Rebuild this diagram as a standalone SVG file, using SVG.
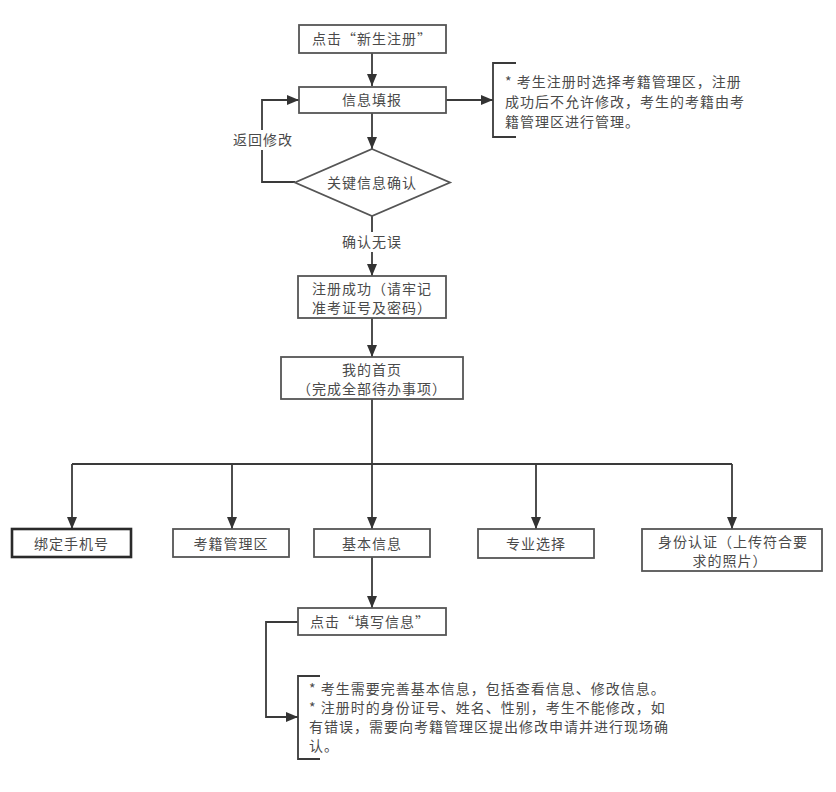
<svg xmlns="http://www.w3.org/2000/svg" width="836" height="792" viewBox="0 0 836 792">
<defs>
<style>
.box{fill:#fff;stroke:#555;stroke-width:1.8}
.box.dark{stroke:#2a2a2a;stroke-width:2.6}
.ln{fill:none;stroke:#3a3a3a;stroke-width:1.8}
.t{font-family:"Noto Sans CJK SC","Noto Sans",sans-serif;font-size:14px;letter-spacing:1px;fill:#4a4a4a}
.c{text-anchor:middle}
</style>
<marker id="arr" viewBox="0 0 12 10" refX="12" refY="5" markerWidth="12" markerHeight="10" orient="auto" markerUnits="userSpaceOnUse">
<path d="M0,0 L12,5 L0,10 z" fill="#333"/>
</marker>
</defs>
<rect width="836" height="792" fill="#fff"/>
<g id="connectors">
<path class="ln" d="M372,53 V86" marker-end="url(#arr)"/>
<path class="ln" d="M372,113 V149" marker-end="url(#arr)"/>
<path class="ln" d="M446,100 H493" marker-end="url(#arr)"/>
<path class="ln" d="M295,182 H262 V100 H299" marker-end="url(#arr)"/>
<path class="ln" d="M372,216 V276" marker-end="url(#arr)"/>
<path class="ln" d="M372,318 V357" marker-end="url(#arr)"/>
<path class="ln" d="M372,399 V529" marker-end="url(#arr)"/>
<path class="ln" d="M72,464 H732"/>
<path class="ln" d="M72,464 V529" marker-end="url(#arr)"/>
<path class="ln" d="M232,464 V529" marker-end="url(#arr)"/>
<path class="ln" d="M536,464 V529" marker-end="url(#arr)"/>
<path class="ln" d="M732,464 V529" marker-end="url(#arr)"/>
<path class="ln" d="M372,557 V608" marker-end="url(#arr)"/>
<path class="ln" d="M298,622 H266 V717 H298" marker-end="url(#arr)"/>
<rect x="232" y="130" width="60" height="20" fill="#fff"/>
<text class="t" x="233" y="145">返回修改</text>
<rect x="342" y="232" width="62" height="20" fill="#fff"/>
<text class="t c" x="372" y="246.5">确认无误</text>
</g>
<g id="n-register">
<rect class="box" x="299" y="25" width="147" height="28"/>
<text class="t c" x="372" y="44">点击“新生注册”</text>
</g>
<g id="n-fill">
<rect class="box" x="299" y="87" width="147" height="26"/>
<text class="t c" x="372" y="105">信息填报</text>
</g>
<g id="note-top">
<path class="ln" d="M516,63 H493 V137 H516"/>
<text class="t" x="505" y="86.5">* 考生注册时选择考籍管理区，注册</text>
<text class="t" x="505" y="107">成功后不允许修改，考生的考籍由考</text>
<text class="t" x="505" y="126.5">籍管理区进行管理。</text>
</g>
<g id="n-confirm">
<polygon class="box" points="372,149 450,182.5 372,216 295,182.5"/>
<text class="t c" x="372" y="187.5">关键信息确认</text>
</g>
<g id="n-success">
<rect class="box" x="298" y="276" width="148" height="42"/>
<text class="t c" x="372" y="293.5">注册成功（请牢记</text>
<text class="t c" x="372" y="312.5">准考证号及密码）</text>
</g>
<g id="n-home">
<rect class="box" x="281" y="357" width="182" height="42"/>
<text class="t c" x="372" y="374.5">我的首页</text>
<text class="t c" x="372" y="393.5">（完成全部待办事项）</text>
</g>
<g id="n-phone">
<rect class="box dark" x="12" y="529" width="119" height="28"/>
<text class="t c" x="71.5" y="548.5">绑定手机号</text>
</g>
<g id="n-area">
<rect class="box" x="173" y="529" width="116" height="28"/>
<text class="t c" x="231" y="548.5">考籍管理区</text>
</g>
<g id="n-basic">
<rect class="box" x="314" y="529" width="116" height="28"/>
<text class="t c" x="372" y="548.5">基本信息</text>
</g>
<g id="n-major">
<rect class="box" x="478" y="529" width="116" height="29"/>
<text class="t c" x="536" y="549">专业选择</text>
</g>
<g id="n-id">
<rect class="box" x="642" y="529" width="180" height="42"/>
<text class="t c" x="733" y="546.5">身份认证（上传符合要</text>
<text class="t c" x="730" y="565.5">求的照片）</text>
</g>
<g id="n-fillinfo">
<rect class="box" x="298" y="608" width="148" height="27"/>
<text class="t c" x="370" y="626.5">点击“填写信息”</text>
</g>
<g id="note-bottom">
<path class="ln" d="M320,676 H298 V759 H320"/>
<text class="t" x="309" y="693.5">* 考生需要完善基本信息，包括查看信息、修改信息。</text>
<text class="t" x="309" y="712.5">* 注册时的身份证号、姓名、性别，考生不能修改，如</text>
<text class="t" x="309" y="731.5">有错误，需要向考籍管理区提出修改申请并进行现场确</text>
<text class="t" x="309" y="750.5">认。</text>
</g>
</svg>
